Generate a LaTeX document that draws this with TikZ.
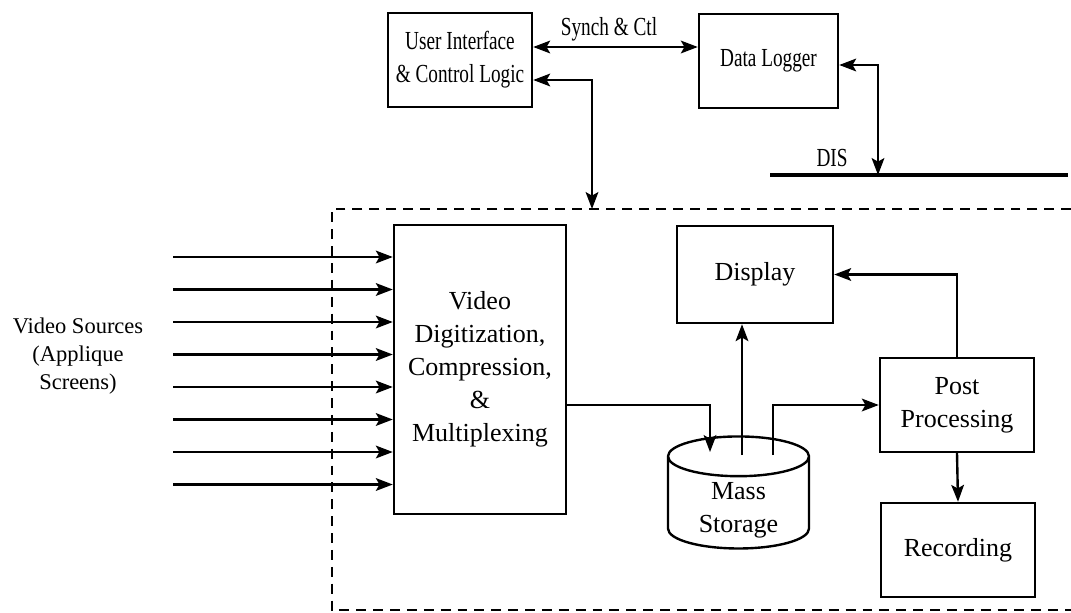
\documentclass[tikz,border=0pt]{standalone}
\usepackage{fontspec}
\setmainfont{Liberation Serif}
\newfontfamily\narrowfont{Liberation Serif}[FakeStretch=0.74]
\usepackage{tikz}
\usetikzlibrary{arrows.meta,shapes.geometric,calc}

\begin{document}
\begin{tikzpicture}[x=0.025cm, y=-0.025cm, line width=1.7pt,
  font=\fontsize{18.5}{23.4}\selectfont,
  >={Stealth[length=12pt,width=9pt,inset=2.5pt]},
  block/.style={draw, inner sep=0pt, align=center},
  topfont/.style={font=\narrowfont\fontsize{18.5}{23.4}\selectfont}]
  \useasboundingbox (0,0) rectangle (1071,612);

  \node[block, topfont, minimum width=3.6cm, minimum height=2.35cm] (ui) at (460,60) {User Interface\\\& Control Logic};
  \node[block, topfont, minimum width=3.475cm, minimum height=2.35cm] (logger) at (768.5,61) {Data Logger};
  \node[block, minimum width=4.3cm, minimum height=7.225cm] (video) at (480,369.5) {Video\\Digitization,\\Compression,\\\&\\Multiplexing};
  \node[block, minimum width=3.9cm, minimum height=2.425cm] (display) at (755,274.5) {Display};
  \node[block, minimum width=3.85cm, minimum height=2.35cm] (post) at (957,405) {Post\\Processing};
  \node[block, minimum width=3.85cm, minimum height=2.35cm] (rec) at (958,550) {Recording};
  \node[block, cylinder, shape border rotate=90, aspect=0.5, minimum width=3.525cm, minimum height=2.8cm] (storage) at (738.5,503)
    {\raisebox{-9pt}[0pt][0pt]{\begin{tabular}{@{}c@{}}Mass\\Storage\end{tabular}}};

  \node[topfont] (synch) at (609,29) {Synch \& Ctl};
  \node[topfont] (dislabel) at (832,158) {DIS};
  \node[align=center, font=\fontsize{16}{19.9}\selectfont] (srclabel) at (78,356) {Video Sources\\(Applique\\Screens)};

  \coordinate (boxtop) at (592,209);
  \coordinate (dis) at (878,175);
  \coordinate (stin) at (710,452);
  \coordinate (stup) at (742,455);
  \coordinate (stout) at (773,455);

  \draw[line width=3pt] (770,175) -- (1068,175);
  \draw[dash pattern=on 7pt off 5pt] (1071,209) -- (332,209) -- (332,610) -- (1071,610);

  \draw[<->] (ui.east |- 0,47) -- (logger.west |- 0,47);
  \draw[<->] (ui.east |- 0,80) -| (boxtop);
  \draw[<->] (logger.east |- 0,65) -| (dis);

  \foreach \y [count=\i] in {257,289.5,322,354.5,387,419.5,452,484.5} {
    \coordinate (src\i) at (173,\y);
    \draw[->] (src\i) -- (src\i -| video.west);
  }

  \draw[->] (video.east |- post.west) -| (stin);
  \draw[->] (stup) -- (stup |- display.south);
  \draw[->] (stout) |- (post.west);
  \draw[->] (post.north) |- (display.east);
  \draw[->] (post.south) -- (rec.north);
\end{tikzpicture}
\end{document}
